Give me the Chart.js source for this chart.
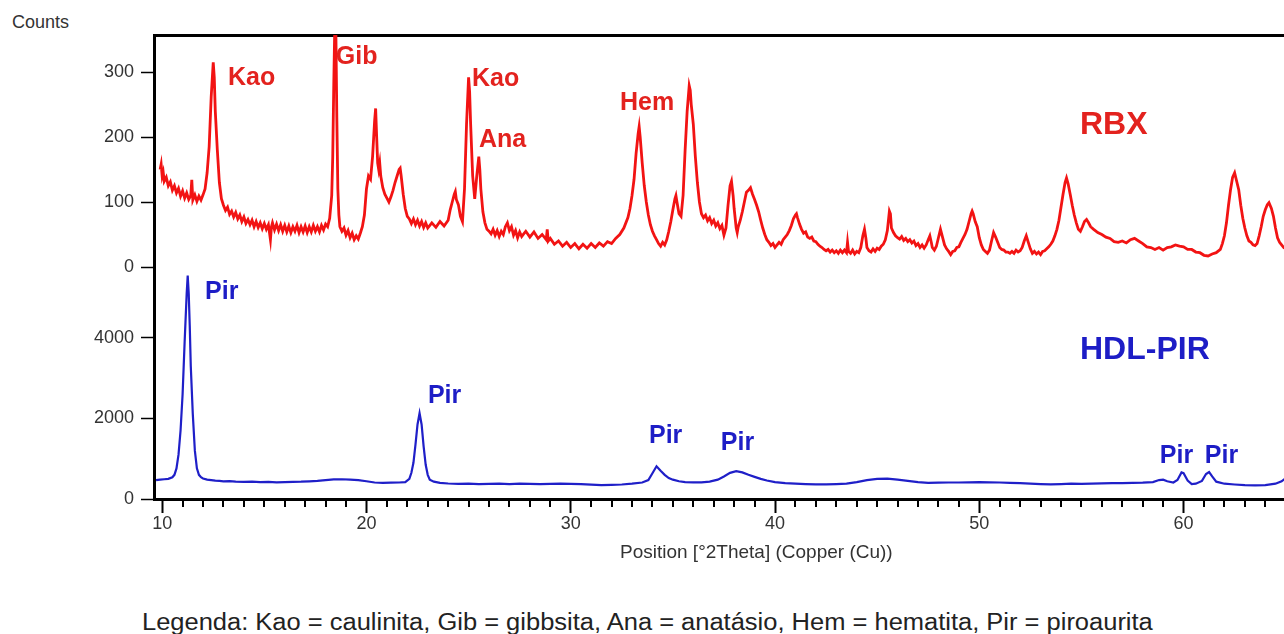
<!DOCTYPE html>
<html>
<head>
<meta charset="utf-8">
<title>XRD RBX / HDL-PIR</title>
<script src="https://cdn.jsdelivr.net/npm/chart.js@4.4.0/dist/chart.umd.min.js"></script>
<style>
    body { margin: 0; background: #fff; overflow: hidden; font-family: "Liberation Sans", Arial, sans-serif; }
    #wrap { position: relative; width: 1284px; height: 634px; overflow: hidden; }
    #xrd { position: absolute; left: 0; top: 0; }
    .txt { position: absolute; white-space: nowrap; color: #333; transform-origin: left center; }
</style>
</head>
<body>
<div id="wrap">
    <div class="txt" style="left:12px; top:12px; font-size:18px; line-height:20px;">Counts</div>
    <canvas id="xrd" width="1320" height="561"></canvas>
    <div class="txt" style="left:620px; top:542px; font-size:19px; line-height:20px;">Position [°2Theta] (Copper (Cu))</div>
    <div class="txt" style="left:142px; top:608px; font-size:23px; line-height:28px; color:#222; transform:scaleX(1.108);">Legenda: Kao = caulinita, Gib = gibbsita, Ana = anatásio, Hem = hematita, Pir = piroaurita</div>
</div>
<script>
// [°2Theta, counts]
const rbxPattern = [
    [9.9,150],[9.95,158],[10.0,140],[10.05,146],[10.1,132],[10.2,138],[10.3,125],[10.4,131],[10.5,118],[10.6,125],
    [10.7,114],[10.8,121],[10.9,109],[11.0,117],[11.1,106],[11.2,114],[11.3,104],[11.4,110],[11.45,134],[11.5,103],
    [11.6,111],[11.7,101],[11.8,109],[11.9,103],[12.0,111],[12.1,120],[12.2,145],[12.3,185],[12.4,262],[12.5,315],
    [12.55,292],[12.6,240],[12.7,180],[12.8,130],[12.9,105],[13.0,95],[13.1,87],[13.2,92],[13.3,81],[13.4,86],
    [13.5,77],[13.6,84],[13.7,74],[13.8,80],[13.9,70],[14.0,77],[14.1,67],[14.2,73],[14.3,65],[14.4,72],
    [14.5,62],[14.6,70],[14.7,61],[14.8,68],[14.9,59],[15.0,67],[15.1,58],[15.2,65],[15.3,42],[15.35,62],
    [15.4,68],[15.5,57],[15.6,66],[15.7,56],[15.8,65],[15.9,55],[16.0,64],[16.1,54],[16.2,63],[16.3,53],
    [16.4,62],[16.5,55],[16.6,64],[16.7,53],[16.8,62],[16.9,54],[17.0,63],[17.1,53],[17.2,62],[17.3,54],
    [17.4,64],[17.5,55],[17.6,62],[17.7,54],[17.8,64],[17.9,57],[18.0,66],[18.1,62],[18.2,75],[18.3,110],
    [18.35,170],[18.4,280],[18.45,372],[18.5,372],[18.55,230],[18.6,120],[18.65,80],[18.7,62],[18.8,55],[18.9,60],
    [19.0,49],[19.1,56],[19.2,45],[19.3,52],[19.4,42],[19.5,48],[19.6,43],[19.7,52],[19.8,62],[19.9,80],
    [20.0,120],[20.1,140],[20.2,135],[20.3,170],[20.4,225],[20.45,244],[20.5,200],[20.55,160],[20.6,150],[20.65,160],
    [20.7,140],[20.8,122],[20.9,112],[21.0,106],[21.1,100],[21.2,108],[21.3,118],[21.4,130],[21.5,140],[21.6,150],
    [21.65,152],[21.7,140],[21.8,112],[21.9,90],[22.0,78],[22.1,74],[22.2,67],[22.3,74],[22.4,65],[22.5,72],
    [22.6,63],[22.7,70],[22.8,61],[22.9,68],[23.0,60],[23.2,68],[23.4,61],[23.6,70],[23.8,63],[24.0,72],
    [24.1,88],[24.2,100],[24.3,112],[24.35,116],[24.4,104],[24.5,96],[24.6,78],[24.7,70],[24.8,120],[24.9,220],
    [25.0,292],[25.05,270],[25.1,220],[25.2,140],[25.3,105],[25.4,140],[25.5,170],[25.55,150],[25.6,120],[25.7,85],
    [25.8,68],[25.9,58],[26.0,55],[26.1,51],[26.2,58],[26.3,49],[26.4,56],[26.5,47],[26.6,55],[26.7,50],
    [26.8,62],[26.9,68],[27.0,56],[27.1,62],[27.2,49],[27.3,56],[27.4,45],[27.5,54],[27.6,47],[27.8,55],
    [28.0,46],[28.2,54],[28.4,44],[28.6,50],[28.8,42],[28.85,58],[28.9,40],[29.0,44],[29.2,35],[29.4,40],
    [29.6,32],[29.8,38],[30.0,30],[30.2,36],[30.4,28],[30.6,35],[30.8,29],[31.0,36],[31.2,30],[31.4,37],
    [31.6,32],[31.8,39],[32.0,36],[32.2,44],[32.4,50],[32.6,60],[32.8,76],[32.9,90],[33.0,110],[33.1,135],
    [33.2,175],[33.3,205],[33.35,216],[33.4,200],[33.5,160],[33.6,125],[33.7,100],[33.8,80],[33.9,65],[34.0,55],
    [34.1,48],[34.2,42],[34.3,36],[34.4,32],[34.5,38],[34.6,34],[34.7,42],[34.8,55],[34.9,70],[35.0,88],
    [35.1,105],[35.15,110],[35.2,100],[35.3,82],[35.4,78],[35.5,110],[35.6,180],[35.7,240],[35.8,279],[35.85,272],
    [35.9,250],[36.0,220],[36.1,170],[36.2,130],[36.3,100],[36.4,82],[36.5,76],[36.6,80],[36.7,71],[36.8,76],
    [36.9,67],[37.0,72],[37.1,63],[37.2,68],[37.3,59],[37.4,64],[37.5,49],[37.6,60],[37.7,95],[37.8,125],
    [37.87,132],[37.95,110],[38.0,90],[38.1,60],[38.15,53],[38.2,62],[38.3,72],[38.4,85],[38.5,100],[38.6,115],
    [38.7,118],[38.8,122],[38.9,112],[39.0,104],[39.1,95],[39.2,85],[39.3,72],[39.4,60],[39.5,50],[39.6,42],
    [39.7,38],[39.8,33],[39.9,36],[40.0,30],[40.1,34],[40.2,38],[40.3,35],[40.4,42],[40.5,46],[40.6,50],
    [40.7,56],[40.8,64],[40.9,74],[41.0,80],[41.05,82],[41.1,76],[41.2,66],[41.3,58],[41.4,52],[41.5,54],
    [41.6,46],[41.7,44],[41.8,46],[41.9,40],[42.0,39],[42.1,35],[42.2,32],[42.3,30],[42.4,27],[42.5,25],
    [42.6,27],[42.7,23],[42.8,26],[42.9,22],[43.0,25],[43.1,21],[43.2,26],[43.3,22],[43.4,26],[43.5,22],
    [43.55,38],[43.6,24],[43.7,21],[43.8,26],[43.9,20],[44.0,24],[44.1,22],[44.2,30],[44.3,48],[44.38,58],
    [44.45,44],[44.5,30],[44.6,25],[44.7,23],[44.8,28],[44.9,24],[45.0,29],[45.1,27],[45.2,32],[45.3,35],
    [45.4,42],[45.5,56],[45.6,86],[45.65,82],[45.7,60],[45.8,53],[45.9,48],[46.0,45],[46.1,43],[46.2,47],
    [46.3,41],[46.4,44],[46.5,39],[46.6,42],[46.7,37],[46.8,40],[46.9,33],[47.0,36],[47.1,30],[47.2,34],
    [47.3,29],[47.4,34],[47.5,42],[47.58,48],[47.65,38],[47.7,30],[47.8,26],[47.9,32],[48.0,45],[48.1,58],
    [48.2,46],[48.3,34],[48.4,28],[48.5,24],[48.6,19],[48.7,24],[48.8,25],[48.9,30],[49.0,31],[49.1,38],
    [49.2,44],[49.3,50],[49.4,58],[49.5,70],[49.6,82],[49.65,86],[49.7,82],[49.8,70],[49.9,62],[50.0,45],
    [50.1,34],[50.2,27],[50.3,24],[50.4,21],[50.5,26],[50.6,40],[50.7,53],[50.8,46],[50.9,38],[51.0,30],
    [51.1,27],[51.2,26],[51.3,23],[51.4,23],[51.5,21],[51.6,24],[51.7,21],[51.8,26],[51.9,23],[52.0,25],
    [52.1,30],[52.2,40],[52.3,48],[52.4,38],[52.5,28],[52.6,21],[52.7,24],[52.8,20],[52.9,23],[53.0,19],
    [53.1,24],[53.2,25],[53.3,28],[53.4,31],[53.5,35],[53.6,40],[53.7,48],[53.8,58],[53.9,72],[54.0,92],
    [54.1,112],[54.2,130],[54.27,137],[54.35,128],[54.45,112],[54.55,95],[54.65,80],[54.75,68],[54.85,58],[54.95,55],
    [55.05,62],[55.15,70],[55.25,73],[55.35,68],[55.45,62],[55.6,58],[55.8,53],[56.0,50],[56.2,46],[56.4,44],
    [56.6,39],[56.8,38],[57.0,40],[57.2,37],[57.4,42],[57.6,44],[57.8,40],[58.0,36],[58.2,31],[58.4,30],
    [58.6,27],[58.8,30],[59.0,26],[59.2,30],[59.4,31],[59.6,34],[59.8,32],[60.0,31],[60.2,27],[60.4,27],
    [60.6,23],[60.8,22],[61.0,18],[61.2,17],[61.4,20],[61.6,22],[61.8,27],[61.9,36],[62.0,48],[62.1,68],
    [62.2,95],[62.3,119],[62.4,138],[62.5,145],[62.6,132],[62.7,119],[62.8,95],[62.9,75],[63.0,60],[63.1,48],
    [63.2,40],[63.3,38],[63.4,34],[63.5,33],[63.6,36],[63.7,48],[63.8,62],[63.9,78],[64.0,88],[64.1,96],
    [64.18,99],[64.3,90],[64.4,78],[64.5,60],[64.6,45],[64.7,38],[64.8,34],[64.9,30],[65.0,32],[65.2,34],
    [65.4,36],[65.6,38]
];

// [°2Theta, counts]
const pirPattern = [
    [9.7,470],[9.9,480],[10.1,490],[10.3,500],[10.5,540],[10.6,600],[10.7,760],[10.8,1100],[10.9,1700],[11.0,2600],
    [11.1,3900],[11.2,5100],[11.25,5545],[11.3,5100],[11.35,4300],[11.4,3300],[11.5,2100],[11.6,1200],[11.7,760],[11.8,600],
    [11.9,540],[12.0,510],[12.2,480],[12.4,470],[12.6,455],[12.8,450],[13.0,440],[13.3,445],[13.6,430],[14.0,425],
    [14.4,430],[14.8,420],[15.2,425],[15.6,415],[16.0,420],[16.4,425],[16.8,430],[17.2,440],[17.6,450],[18.0,470],
    [18.4,485],[18.8,490],[19.2,480],[19.6,470],[20.0,440],[20.4,410],[20.8,400],[21.2,405],[21.6,410],[21.9,420],
    [22.1,500],[22.2,650],[22.3,900],[22.4,1350],[22.5,1850],[22.6,2130],[22.7,1850],[22.8,1300],[22.9,850],[23.0,600],
    [23.1,480],[23.3,430],[23.6,400],[24.0,385],[24.5,375],[25.0,380],[25.5,370],[26.0,375],[26.5,380],[27.0,370],
    [27.5,380],[28.0,375],[28.5,370],[29.0,375],[29.5,380],[30.0,375],[30.5,370],[31.0,355],[31.5,345],[32.0,350],
    [32.5,360],[33.0,380],[33.5,410],[33.8,470],[34.0,640],[34.2,812],[34.4,700],[34.6,600],[34.8,520],[35.0,480],
    [35.3,440],[35.6,420],[36.0,415],[36.4,415],[36.8,430],[37.2,480],[37.5,560],[37.8,650],[38.1,690],[38.4,660],
    [38.7,600],[39.0,550],[39.3,500],[39.6,460],[40.0,420],[40.5,395],[41.0,380],[41.5,370],[42.0,362],[42.5,365],
    [43.0,370],[43.5,380],[44.0,420],[44.5,470],[45.0,500],[45.5,505],[46.0,480],[46.5,450],[47.0,420],[47.5,400],
    [48.0,405],[48.5,410],[49.0,410],[49.5,415],[50.0,420],[50.5,415],[51.0,410],[51.5,400],[52.0,395],[52.5,380],
    [53.0,370],[53.5,365],[54.0,370],[54.5,380],[55.0,378],[55.5,382],[56.0,388],[56.5,392],[57.0,395],[57.5,400],
    [58.0,405],[58.5,420],[58.8,470],[59.0,480],[59.2,440],[59.5,410],[59.7,470],[59.9,660],[60.0,640],[60.2,460],
    [60.4,370],[60.6,380],[60.9,450],[61.1,620],[61.25,670],[61.4,560],[61.6,430],[62.0,380],[62.5,360],[63.0,345],
    [63.5,337],[64.0,345],[64.5,380],[64.8,440],[65.0,520],[65.3,600]
];

const thetaTicks = [10, 20, 30, 40, 50, 60];
const rbxTicks = [0, 100, 200, 300];
const pirTicks = [0, 2000, 4000];

// peak labels, placed in data units of their own panel
const peakLabels = [
    { text: 'Kao', theta: 13.22, counts: 294, panel: 'rbx' },
    { text: 'Gib', theta: 18.5, counts: 326, panel: 'rbx' },
    { text: 'Kao', theta: 25.17, counts: 292, panel: 'rbx' },
    { text: 'Ana', theta: 25.51, counts: 199, panel: 'rbx' },
    { text: 'Hem', theta: 32.41, counts: 256, panel: 'rbx' },
    { text: 'RBX', theta: 54.93, counts: 222, panel: 'rbx', big: true },
    { text: 'Pir', theta: 12.1, counts: 5190, panel: 'pir' },
    { text: 'Pir', theta: 23.01, counts: 2610, panel: 'pir' },
    { text: 'Pir', theta: 33.83, counts: 1610, panel: 'pir' },
    { text: 'Pir', theta: 37.35, counts: 1440, panel: 'pir' },
    { text: 'Pir', theta: 58.84, counts: 1120, panel: 'pir' },
    { text: 'Pir', theta: 61.04, counts: 1120, panel: 'pir' },
    { text: 'HDL-PIR', theta: 54.93, counts: 3760, panel: 'pir', big: true }
];

const FONT = '"Liberation Sans", Arial, sans-serif';
Chart.defaults.font.family = FONT;

const toXY = arr => arr.map(([x, y]) => ({ x, y }));

// minor degree ticks under the theta axis, then the peak labels
const overlayPlugin = {
    id: 'xrdOverlay',
    afterDatasetsDraw(chart) {
        const { ctx, scales } = chart;
        const x = scales.x;

        ctx.save();
        ctx.strokeStyle = '#000';
        ctx.lineWidth = 2;
        for (let t = Math.ceil(x.min); t <= x.max; t++) {
            if (thetaTicks.includes(t)) continue;
            const px = Math.round(x.getPixelForValue(t));
            ctx.beginPath();
            ctx.moveTo(px, x.top);
            ctx.lineTo(px, x.top + 8);
            ctx.stroke();
        }
        ctx.restore();

        ctx.save();
        ctx.textAlign = 'left';
        ctx.textBaseline = 'alphabetic';
        for (const l of peakLabels) {
            const yScale = l.panel === 'rbx' ? scales.yTop : scales.yBot;
            const size = l.big ? 32 : 25;
            ctx.font = `bold ${size}px ${FONT}`;
            ctx.fillStyle = l.panel === 'rbx' ? '#e3221e' : '#1d1dc6';
            ctx.fillText(l.text, x.getPixelForValue(l.theta), yScale.getPixelForValue(l.counts) + size * 0.36);
        }
        ctx.restore();
    }
};

const yAxis = (ticks, max) => ({
    type: 'linear',
    position: 'left',
    stack: 'panels',
    stackWeight: 1,
    min: 0,
    max: max,
    afterFit: s => { s.width = 154; },
    afterBuildTicks: s => { s.ticks = ticks.map(v => ({ value: v })); },
    ticks: { padding: 7, color: '#333', font: { size: 18 }, callback: v => String(v) },
    grid: { drawOnChartArea: false, drawTicks: true, tickLength: 13, color: '#000', tickWidth: 1.5 },
    border: { color: '#000', width: 3 }
});

new Chart(document.getElementById('xrd'), {
    type: 'line',
    data: {
        datasets: [
            {
                label: 'RBX',
                data: toXY(rbxPattern),
                yAxisID: 'yTop',
                borderColor: '#f21313',
                borderWidth: 2.8,
                pointRadius: 0,
                tension: 0
            },
            {
                label: 'HDL-PIR',
                data: toXY(pirPattern),
                yAxisID: 'yBot',
                borderColor: '#1f1fc8',
                borderWidth: 2.2,
                pointRadius: 0,
                tension: 0
            }
        ]
    },
    options: {
        responsive: false,
        animation: false,
        devicePixelRatio: 1,
        events: [],
        layout: { padding: { top: 35, right: 20, left: 0, bottom: 0 } },
        plugins: { legend: { display: false }, tooltip: { enabled: false } },
        scales: {
            x: {
                type: 'linear',
                position: 'bottom',
                min: 9.6,
                max: 65.7,
                afterFit: s => { s.height = 62; },
                afterBuildTicks: s => { s.ticks = thetaTicks.map(v => ({ value: v })); },
                ticks: {
                    autoSkip: false,
                    maxRotation: 0,
                    minRotation: 0,
                    padding: 0,
                    color: '#333',
                    font: { size: 18 },
                    callback: v => String(v)
                },
                grid: {
                    drawOnChartArea: false,
                    drawTicks: true,
                    tickLength: 14,
                    color: '#000',
                    tickColor: '#000',
                    tickWidth: 2
                },
                border: { color: '#000', width: 3 }
            },
            xTop: {
                type: 'linear',
                position: 'top',
                min: 9.6,
                max: 65.7,
                afterFit: s => { s.height = 0; },
                ticks: { display: false },
                grid: { display: false },
                border: { color: '#000', width: 3 }
            },
            yBot: yAxis(pirTicks, 5760),
            yTop: yAxis(rbxTicks, 357)
        }
    },
    plugins: [overlayPlugin]
});
</script>
</body>
</html>
